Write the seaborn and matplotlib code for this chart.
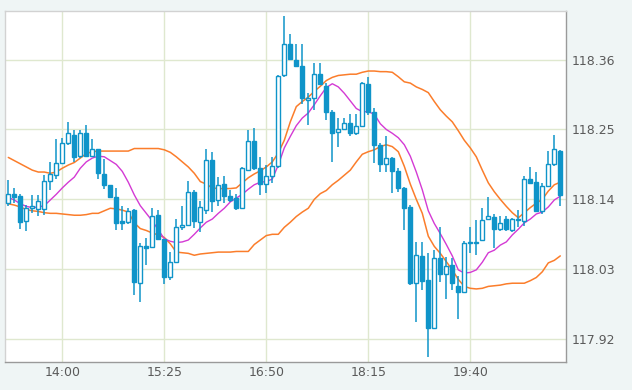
import numpy as np
import pandas as pd
import matplotlib
matplotlib.use("Agg")
import matplotlib.pyplot as plt
from matplotlib.patches import Rectangle
import seaborn as sns

sns.set_style("white")
plt.rcParams["font.family"] = ["DejaVu Sans"]

BLUE = "#0f94c9"
ORANGE = "#fb7d2b"
MAGENTA = "#d43ad4"
GRID = "#dfe8cf"
TEXT = "#5a5a5a"

# 5 minute candles starting at 13:15
start_time = "13:15"
tick_labels = ["14:00", "15:25", "16:50", "18:15", "19:40"]
y_ticks = [117.92, 118.03, 118.14, 118.25, 118.36]

open_ = [118.134, 118.149, 118.146, 118.106, 118.126, 118.125, 118.125, 118.169, 118.178, 118.198,
         118.228, 118.242, 118.208, 118.245, 118.209, 118.219, 118.180, 118.162, 118.144, 118.106,
         118.104, 118.123, 118.008, 118.066, 118.065, 118.116, 118.077, 118.018, 118.042, 118.097,
         118.099, 118.152, 118.104, 118.123, 118.202, 118.139, 118.164, 118.145, 118.142, 118.127,
         118.186, 118.232, 118.190, 118.164, 118.176, 118.192, 118.335, 118.384, 118.360, 118.350,
         118.297, 118.299, 118.338, 118.318, 118.278, 118.246, 118.250, 118.260, 118.244, 118.255,
         118.322, 118.278, 118.226, 118.195, 118.205, 118.185, 118.158, 118.128, 118.008, 118.051,
         118.013, 117.937, 118.047, 118.023, 118.037, 118.004, 117.994, 118.071, 118.071, 118.076,
         118.109, 118.113, 118.093, 118.109, 118.092, 118.107, 118.106, 118.172, 118.167, 118.122,
         118.161, 118.195, 118.216]
high = [118.170, 118.158, 118.148, 118.131, 118.147, 118.147, 118.178, 118.199, 118.235, 118.236,
        118.261, 118.249, 118.249, 118.257, 118.235, 118.219, 118.204, 118.163, 118.158, 118.129,
        118.126, 118.125, 118.072, 118.079, 118.126, 118.124, 118.077, 118.057, 118.109, 118.129,
        118.169, 118.155, 118.138, 118.219, 118.215, 118.175, 118.176, 118.155, 118.148, 118.191,
        118.249, 118.253, 118.207, 118.194, 118.207, 118.336, 118.428, 118.400, 118.384, 118.384,
        118.308, 118.355, 118.355, 118.323, 118.281, 118.268, 118.268, 118.275, 118.275, 118.325,
        118.333, 118.284, 118.228, 118.239, 118.207, 118.189, 118.159, 118.131, 118.073, 118.073,
        118.055, 118.060, 118.097, 118.050, 118.047, 118.019, 118.074, 118.097, 118.107, 118.126,
        118.143, 118.117, 118.114, 118.114, 118.110, 118.123, 118.177, 118.191, 118.183, 118.166,
        118.216, 118.242, 118.218]
low = [118.129, 118.134, 118.094, 118.090, 118.118, 118.114, 118.116, 118.155, 118.172, 118.196,
       118.226, 118.199, 118.205, 118.207, 118.207, 118.172, 118.157, 118.142, 118.092, 118.092,
       118.101, 117.989, 117.978, 118.037, 118.063, 118.076, 118.007, 118.013, 118.041, 118.092,
       118.098, 118.095, 118.088, 118.117, 118.120, 118.129, 118.134, 118.136, 118.124, 118.126,
       118.185, 118.186, 118.147, 118.150, 118.165, 118.189, 118.333, 118.359, 118.349, 118.290,
       118.257, 118.281, 118.320, 118.265, 118.199, 118.223, 118.249, 118.239, 118.241, 118.254,
       118.273, 118.197, 118.183, 118.183, 118.150, 118.151, 118.092, 118.005, 117.947, 117.997,
       117.892, 117.936, 118.010, 117.983, 117.997, 117.952, 117.993, 118.055, 118.052, 118.074,
       118.107, 118.063, 118.090, 118.090, 118.088, 118.097, 118.098, 118.164, 118.120, 118.117,
       118.159, 118.192, 118.129]
close = [118.149, 118.144, 118.104, 118.126, 118.129, 118.137, 118.169, 118.180, 118.198, 118.228,
         118.244, 118.206, 118.244, 118.209, 118.219, 118.181, 118.162, 118.144, 118.102, 118.103,
         118.121, 118.010, 118.066, 118.064, 118.114, 118.077, 118.018, 118.042, 118.097, 118.099,
         118.151, 118.106, 118.128, 118.202, 118.138, 118.163, 118.145, 118.139, 118.126, 118.189,
         118.232, 118.190, 118.164, 118.176, 118.192, 118.334, 118.384, 118.361, 118.350, 118.299,
         118.300, 118.338, 118.322, 118.278, 118.245, 118.250, 118.260, 118.244, 118.256, 118.323,
         118.278, 118.226, 118.195, 118.205, 118.185, 118.158, 118.126, 118.008, 118.053, 118.012,
         117.937, 118.047, 118.023, 118.035, 118.008, 117.994, 118.072, 118.073, 118.073, 118.107,
         118.114, 118.093, 118.103, 118.093, 118.109, 118.109, 118.172, 118.166, 118.122, 118.161,
         118.195, 118.219, 118.147]

upper_band = [118.206, 118.201, 118.196, 118.191, 118.186, 118.183, 118.183, 118.181, 118.183, 118.189,
              118.194, 118.198, 118.205, 118.212, 118.215, 118.216, 118.216, 118.216, 118.216, 118.216,
              118.216, 118.220, 118.220, 118.220, 118.220, 118.220, 118.218, 118.214, 118.207, 118.199,
              118.191, 118.181, 118.168, 118.164, 118.158, 118.157, 118.157, 118.157, 118.158, 118.166,
              118.174, 118.180, 118.185, 118.191, 118.199, 118.213, 118.233, 118.262, 118.286, 118.294,
              118.301, 118.310, 118.318, 118.327, 118.332, 118.335, 118.336, 118.337, 118.337, 118.340,
              118.342, 118.342, 118.341, 118.341, 118.340, 118.333, 118.325, 118.323, 118.317, 118.313,
              118.308, 118.294, 118.281, 118.271, 118.262, 118.248, 118.233, 118.221, 118.207, 118.186,
              118.166, 118.152, 118.140, 118.129, 118.119, 118.111, 118.119, 118.127, 118.134, 118.140,
              118.153, 118.163, 118.167]
lower_band = [118.133, 118.131, 118.128, 118.124, 118.122, 118.121, 118.119, 118.118, 118.118, 118.117,
              118.116, 118.115, 118.115, 118.116, 118.118, 118.118, 118.122, 118.126, 118.125, 118.123,
              118.120, 118.103, 118.094, 118.091, 118.087, 118.084, 118.080, 118.070, 118.057, 118.056,
              118.055, 118.052, 118.054, 118.055, 118.056, 118.057, 118.057, 118.057, 118.058, 118.058,
              118.058, 118.069, 118.076, 118.083, 118.085, 118.085, 118.096, 118.104, 118.113, 118.120,
              118.126, 118.140, 118.149, 118.154, 118.163, 118.170, 118.178, 118.186, 118.199, 118.211,
              118.215, 118.218, 118.223, 118.226, 118.223, 118.215, 118.192, 118.164, 118.140, 118.118,
              118.082, 118.066, 118.055, 118.042, 118.029, 118.014, 118.003, 118.000, 117.999, 118.000,
              118.003, 118.004, 118.005, 118.007, 118.008, 118.008, 118.008, 118.012, 118.017, 118.026,
              118.040, 118.044, 118.051]
moving_avg = [118.143, 118.139, 118.133, 118.129, 118.127, 118.128, 118.130, 118.139, 118.148, 118.158,
              118.167, 118.175, 118.189, 118.199, 118.205, 118.208, 118.207, 118.201, 118.195, 118.184,
              118.167, 118.147, 118.130, 118.118, 118.106, 118.092, 118.078, 118.074, 118.072, 118.073,
              118.076, 118.085, 118.095, 118.104, 118.109, 118.118, 118.126, 118.136, 118.142, 118.148,
              118.156, 118.163, 118.167, 118.168, 118.172, 118.194, 118.221, 118.239, 118.256, 118.268,
              118.276, 118.289, 118.303, 118.316, 118.322, 118.317, 118.307, 118.295, 118.283, 118.278,
              118.278, 118.274, 118.259, 118.250, 118.244, 118.237, 118.226, 118.208, 118.183, 118.155,
              118.122, 118.102, 118.086, 118.069, 118.051, 118.029, 118.024, 118.025, 118.029, 118.041,
              118.056, 118.060, 118.068, 118.073, 118.084, 118.093, 118.103, 118.109, 118.117, 118.120,
              118.128, 118.139, 118.145]

times = pd.date_range("2000-01-01 " + start_time, periods=len(close), freq="5min").strftime("%H:%M")
df = pd.DataFrame({"time": times, "open": open_, "high": high, "low": low, "close": close,
                   "upper": upper_band, "lower": lower_band, "ma": moving_avg})
df["x"] = np.arange(len(df))
up = df[df["close"] >= df["open"]]
down = df[df["close"] < df["open"]]

fig = plt.figure(figsize=(6.37, 3.90), dpi=100)
fig.patch.set_facecolor("#eff5f5")
fig.patches.append(Rectangle((632 / 637, 0), 5 / 637, 1, transform=fig.transFigure,
                             facecolor="white", edgecolor="none"))
ax = fig.add_axes([5.3 / 637, 1 - 362 / 390, (566 - 5.3) / 637, (362 - 11.3) / 390])
ax.set_facecolor("white")

sns.lineplot(data=df, x="x", y="upper", ax=ax, color=ORANGE, lw=1.1, zorder=2)
sns.lineplot(data=df, x="x", y="lower", ax=ax, color=ORANGE, lw=1.1, zorder=2)
sns.lineplot(data=df, x="x", y="ma", ax=ax, color=MAGENTA, lw=1.0, zorder=2)

ax.vlines(df["x"], df["low"], df["high"], color=BLUE, lw=1.1, zorder=3)
ax.bar(up["x"], up["close"] - up["open"], bottom=up["open"], width=0.68,
       facecolor="white", edgecolor=BLUE, linewidth=1.0, zorder=4)
ax.bar(down["x"], down["open"] - down["close"], bottom=down["close"], width=0.68,
       facecolor=BLUE, edgecolor=BLUE, linewidth=1.0, zorder=4)

tick_pos = df.loc[df["time"].isin(tick_labels), "x"]
ax.set_xticks(tick_pos)
ax.set_xticklabels(df.loc[df["time"].isin(tick_labels), "time"])
ax.set_yticks(y_ticks)
ax.set_yticklabels(["%.2f" % v for v in y_ticks])
ax.yaxis.tick_right()
ax.tick_params(axis="both", length=0, labelsize=9, colors=TEXT)
ax.tick_params(axis="x", pad=3)
ax.tick_params(axis="y", pad=4)
ax.grid(True, color=GRID, lw=1.0, zorder=0)
ax.set_axisbelow(True)

ax.set_xlim(-0.5, 92.95)
ax.set_ylim(117.884, 118.436)
ax.set_xlabel("")
ax.set_ylabel("")

for side in ["left", "top"]:
    ax.spines[side].set_color("#d2d2d2")
for side in ["right", "bottom"]:
    ax.spines[side].set_color("#9a9a9a")
for s in ax.spines.values():
    s.set_linewidth(1.0)

fig.savefig("out.png", dpi=100, facecolor=fig.get_facecolor())
